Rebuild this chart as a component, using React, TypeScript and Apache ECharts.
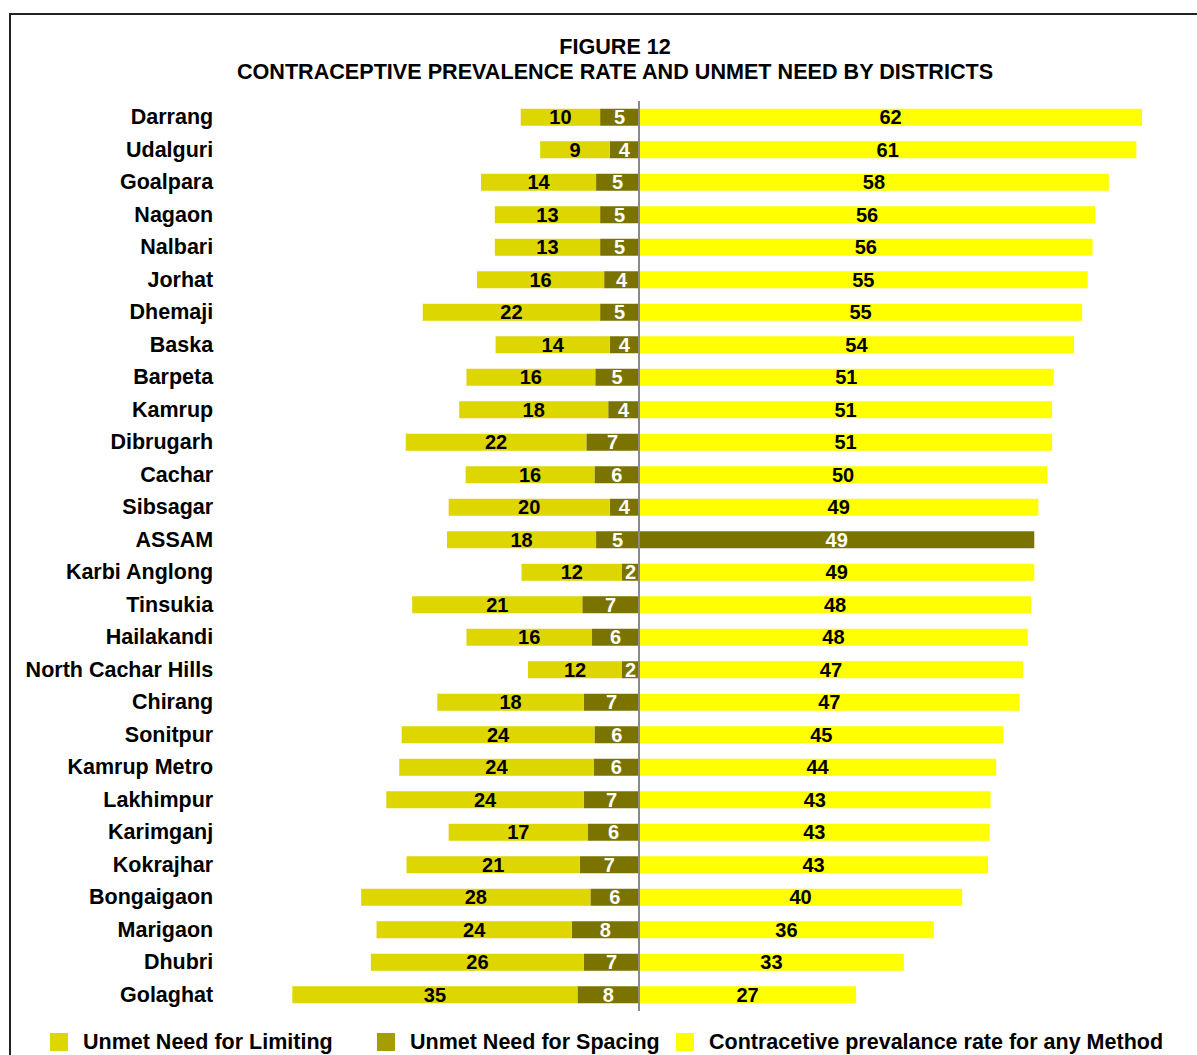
import React, { useEffect, useRef } from "react";
import * as echarts from "echarts";

const districts = [
  "Darrang", "Udalguri", "Goalpara", "Nagaon", "Nalbari", "Jorhat", "Dhemaji", "Baska",
  "Barpeta", "Kamrup", "Dibrugarh", "Cachar", "Sibsagar", "ASSAM", "Karbi Anglong",
  "Tinsukia", "Hailakandi", "North Cachar Hills", "Chirang", "Sonitpur", "Kamrup Metro",
  "Lakhimpur", "Karimganj", "Kokrajhar", "Bongaigaon", "Marigaon", "Dhubri", "Golaghat",
];

const unmetLimiting = [
  9.8, 8.6, 14.2, 13.0, 13.0, 15.7, 21.9, 14.1, 15.9, 18.4, 22.3, 15.9, 19.9, 18.4, 12.4,
  21.0, 15.5, 11.6, 18.1, 23.8, 24.0, 24.4, 17.2, 21.4, 28.3, 24.1, 26.3, 35.2,
];

const unmetSpacing = [
  4.8, 3.6, 5.3, 4.8, 4.8, 4.3, 4.8, 3.6, 5.4, 3.8, 6.5, 5.5, 3.6, 5.3, 2.1,
  7.0, 5.8, 2.1, 6.8, 5.5, 5.6, 6.8, 6.3, 7.3, 6.0, 8.3, 6.8, 7.6,
];

const cprAnyMethod = [
  62.1, 61.4, 58.0, 56.3, 56.0, 55.4, 54.7, 53.7, 51.2, 51.0, 51.0, 50.4, 49.3, 48.8, 48.8,
  48.4, 48.0, 47.4, 47.0, 45.0, 44.1, 43.4, 43.3, 43.1, 39.9, 36.4, 32.7, 26.8,
];

const seriesNames = [
  "Unmet Need for Limiting",
  "Unmet Need for Spacing",
  "Contracetive prevalance rate for any Method",
];

const FONT = "'Liberation Sans', Arial, sans-serif";
const C_LIMIT = "#DDD600";
const C_SPACE = "#7A7300";
const C_SPACE_LEGEND = "#A59E00";
const C_CPR = "#FFFF00";

export default function App() {
  const ref = useRef<HTMLDivElement>(null);

  useEffect(() => {
    if (!ref.current) return;
    const chart = echarts.init(ref.current, null, { renderer: "svg" });
    const fmt = (p: any) => String(Math.round(Math.abs(p.value)));
    const valueLabel = (color: string) => ({
      show: true,
      position: "inside",
      formatter: fmt,
      color,
      fontSize: 20,
      fontWeight: "bold",
      fontFamily: FONT,
    });
    const legendBase = (left: number, name: string, color: string) => ({
      left,
      top: 1031,
      padding: 0,
      orient: "horizontal",
      itemWidth: 18,
      itemHeight: 18,
      icon: "rect",
      selectedMode: false,
      textStyle: {
        fontSize: 21.5,
        fontWeight: "bold",
        fontFamily: FONT,
        color: "#000",
        padding: [0, 0, 0, 10],
      },
      data: [{ name, itemStyle: { color } }],
    });

    chart.setOption({
      animation: false,
      backgroundColor: "#fff",
      title: {
        text: "FIGURE 12\nCONTRACEPTIVE PREVALENCE RATE AND UNMET NEED BY DISTRICTS",
        left: 610,
        textAlign: "center",
        top: 29,
        textStyle: {
          fontSize: 21.6,
          fontWeight: "bold",
          fontFamily: FONT,
          color: "#000",
          lineHeight: 25,
          align: "center",
        },
      },
      graphic: [
        {
          type: "rect",
          shape: { x: 10, y: 14, width: 1200, height: 1060 },
          style: { fill: "none", stroke: "#222", lineWidth: 2 },
          silent: true,
          z: 100,
        },
      ],
      legend: [
        legendBase(50, seriesNames[0], C_LIMIT),
        legendBase(377, seriesNames[1], C_SPACE_LEGEND),
        legendBase(676, seriesNames[2], C_CPR),
      ],
      grid: { left: 250.2, width: 939.6, top: 101, height: 910 },
      xAxis: {
        type: "value",
        min: -48,
        max: 68,
        show: false,
        splitLine: { show: false },
      },
      yAxis: {
        type: "category",
        data: districts,
        inverse: true,
        axisLine: { show: false },
        axisTick: { show: false },
        splitLine: { show: false },
        axisLabel: {
          margin: 37,
          fontSize: 21.5,
          fontWeight: "bold",
          fontFamily: FONT,
          color: "#000",
        },
      },
      series: [
        {
          name: seriesNames[1],
          type: "bar",
          stack: "u",
          barWidth: 17,
          itemStyle: { color: C_SPACE },
          label: valueLabel("#fff"),
          data: unmetSpacing.map((v) => -v),
        },
        {
          name: seriesNames[0],
          type: "bar",
          stack: "u",
          barWidth: 17,
          itemStyle: { color: C_LIMIT },
          label: valueLabel("#000"),
          data: unmetLimiting.map((v) => -v),
        },
        {
          name: seriesNames[2],
          type: "bar",
          stack: "u",
          barWidth: 17,
          itemStyle: { color: C_CPR },
          label: valueLabel("#000"),
          data: cprAnyMethod.map((v, i) =>
            districts[i] === "ASSAM"
              ? { value: v, itemStyle: { color: C_SPACE }, label: { color: "#fff" } }
              : v
          ),
          markLine: {
            silent: true,
            symbol: "none",
            label: { show: false },
            lineStyle: { color: "#8a8a8a", width: 2, type: "solid" },
            data: [{ xAxis: 0 }],
            z: 10,
          },
        },
      ],
    });
    return () => chart.dispose();
  }, []);

  return (
    <div
      ref={ref}
      style={{ position: "absolute", left: 0, top: 0, width: 1197, height: 1055 }}
    />
  );
}
